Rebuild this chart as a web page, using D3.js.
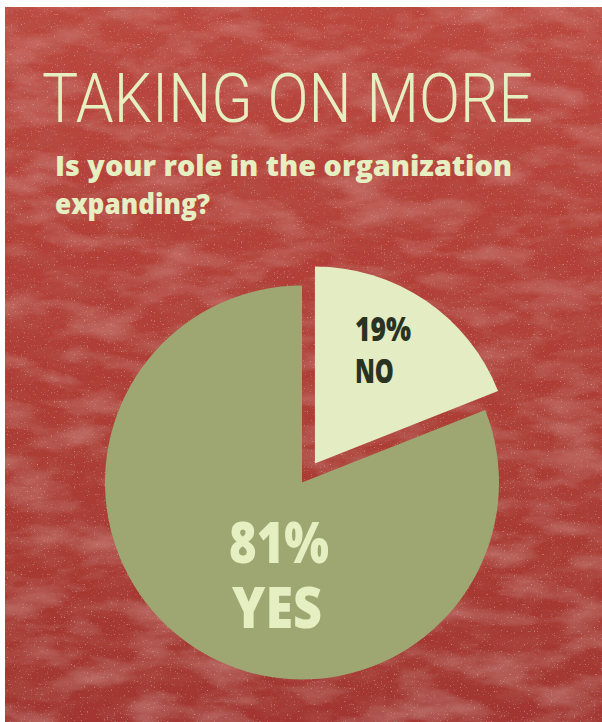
<!DOCTYPE html>
<html>
<head>
<meta charset="utf-8">
<script src="https://cdn.jsdelivr.net/npm/d3@7"></script>
<style>
  html, body { margin: 0; padding: 0; background: #ffffff; }
  svg { display: block; }
</style>
</head>
<body>
<div id="chart"></div>
<script>
// ---- data ----
const categories = ["NO", "YES"];
const values = [19, 81];
const valueLabels = ["19%", "81%"];
const title = "TAKING ON MORE";
const subtitleLines = ["Is your role in the organization", "expanding?"];

// ---- layout ----
const W = 602, H = 722;
const svg = d3.select("#chart").append("svg").attr("width", W).attr("height", H);
const defs = svg.append("defs");

// textured red background
const grad = defs.append("linearGradient").attr("id", "bgGrad").attr("x1", 0).attr("y1", 0).attr("x2", 0).attr("y2", 1);
grad.append("stop").attr("offset", "0%").attr("stop-color", "#bb473e");
grad.append("stop").attr("offset", "45%").attr("stop-color", "#b03f37");
grad.append("stop").attr("offset", "100%").attr("stop-color", "#a23630");

const f = defs.append("filter").attr("id", "grain").attr("x", 0).attr("y", 0).attr("width", "100%").attr("height", "100%");
f.append("feTurbulence").attr("type", "fractalNoise").attr("baseFrequency", "0.015 0.04").attr("numOctaves", 4).attr("seed", 7).attr("result", "noise");
f.append("feColorMatrix").attr("in", "noise").attr("type", "matrix")
  .attr("values", "0 0 0 0 0.9  0 0 0 0 0.5  0 0 0 0 0.45  0.5 0 0 0 -0.22").attr("result", "light");
f.append("feComposite").attr("in", "light").attr("in2", "SourceGraphic").attr("operator", "in").attr("result", "lightClip");
f.append("feTurbulence").attr("type", "fractalNoise").attr("baseFrequency", "0.03 0.06").attr("numOctaves", 3).attr("seed", 11).attr("result", "noise2");
f.append("feColorMatrix").attr("in", "noise2").attr("type", "matrix")
  .attr("values", "0 0 0 0 0.45  0 0 0 0 0.1  0 0 0 0 0.08  0.8 0 0 0 -0.32").attr("result", "dark");
f.append("feTurbulence").attr("type", "fractalNoise").attr("baseFrequency", "0.7").attr("numOctaves", 1).attr("seed", 3).attr("result", "fine");
f.append("feColorMatrix").attr("in", "fine").attr("type", "matrix")
  .attr("values", "0 0 0 0 0.9  0 0 0 0 0.6  0 0 0 0 0.55  2.2 0 0 0 -1.45").attr("result", "specks");
f.append("feMerge").selectAll("feMergeNode").data(["SourceGraphic", "dark", "lightClip", "specks"]).enter()
  .append("feMergeNode").attr("in", d => d);

svg.append("rect").attr("x", 5).attr("y", 7).attr("width", W - 5).attr("height", H - 7)
  .attr("fill", "url(#bgGrad)").attr("filter", "url(#grain)");

const lightText = "#e6efc1";

// title
svg.append("text").attr("x", 42).attr("y", 122)
  .attr("font-family", "Roboto, 'DejaVu Sans', sans-serif").attr("font-weight", 300)
  .attr("font-size", 69).attr("fill", lightText)
  .attr("textLength", 491).attr("lengthAdjust", "spacingAndGlyphs")
  .text(title);

// subtitle (one text block, two lines)
const boldFont = "'Open Sans', 'Roboto', sans-serif";
const subWidths = [457, 155];
const sub = svg.append("text")
  .attr("font-family", boldFont).attr("font-weight", 800)
  .attr("font-size", 28).attr("fill", lightText);
subtitleLines.forEach((line, i) => {
  sub.append("tspan").attr("x", 55).attr("y", 176 + i * 38)
    .attr("textLength", subWidths[i]).attr("lengthAdjust", "spacingAndGlyphs")
    .text(line);
});

// pie
const cx = 302, cy = 482.5, r = 197, explode = 23;
const pie = d3.pie().sort(null).value(d => d)(values);
const arc = d3.arc().innerRadius(0).outerRadius(r);
const colors = ["#e3ecc3", "#9ea772"];

const g = svg.append("g").attr("transform", `translate(${cx},${cy})`);
const slices = g.selectAll("g.slice").data(pie).enter().append("g").attr("class", "slice")
  .attr("transform", (d, i) => {
    if (i !== 0) return null;
    const a = (d.startAngle + d.endAngle) / 2;
    return `translate(${Math.sin(a) * explode},${-Math.cos(a) * explode})`;
  });
slices.append("path").attr("d", arc).attr("fill", (d, i) => colors[i]);

// labels: each slice gets one text block with two lines
const labelSpec = [
  { size: 33, fill: "#2a3322", lines: [{ x: 40, y: -122, w: 56 }, { x: 40, y: -80, w: 39 }] },
  { size: 56, fill: lightText, lines: [{ x: -73, y: 80.5, w: 100 }, { x: -70, y: 145.5, w: 90 }] }
];
slices.each(function (d, i) {
  const s = labelSpec[i];
  const t = d3.select(this).append("text")
    .attr("font-family", boldFont).attr("font-weight", 800)
    .attr("font-size", s.size).attr("fill", s.fill);
  [valueLabels[i], categories[i]].forEach((txt, j) => {
    t.append("tspan").attr("x", s.lines[j].x).attr("y", s.lines[j].y)
      .attr("textLength", s.lines[j].w).attr("lengthAdjust", "spacingAndGlyphs")
      .text(txt);
  });
});
</script>
</body>
</html>
